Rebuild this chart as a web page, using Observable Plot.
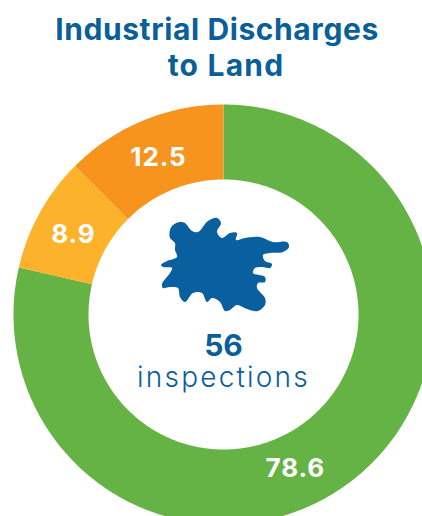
<!DOCTYPE html>
<html><head><meta charset="utf-8">
<script src="https://cdn.jsdelivr.net/npm/d3@7"></script>
<script src="https://cdn.jsdelivr.net/npm/@observablehq/plot@0.6"></script>
<style>
html,body{margin:0;background:#fff;overflow:hidden}
#t{height:92px;box-sizing:border-box;padding-top:11px;text-align:center;color:#0a5f9a;font:700 30px/36px Inter,sans-serif;letter-spacing:.6px;margin-left:12px}
#t span{position:relative;left:9px;letter-spacing:1.2px}
svg{display:block}
.lab{letter-spacing:.9px}
.insp{letter-spacing:2.2px}
</style></head><body>
<div id="t">Industrial Discharges<br><span>to Land</span></div>
<script>
const categories = ["good", "moderate", "poor"];
const shares = [78.6, 8.9, 12.5];
const labels = ["78.6", "8.9", "12.5"];
const colors = ["#66b345", "#fcb22b", "#f7941e"];
const labelBearing = [155, -62, -22.5];
const centerValue = "56";
const centerLabel = "inspections";
const splash = [[173,225],[180,222],[185,223],[192,231],[198,232],[208,221],[217,218],[221,223],[217,232],[222,238],[230,233],[237,233],[236,240],[245,238],[260,237],[273,242],[287,242],[289,247],[283,252],[270,253],[263,255],[265,261],[272,264],[270,268],[262,267],[255,268],[253,273],[265,277],[265,282],[258,283],[257,288],[265,298],[265,305],[258,311],[247,309],[237,305],[230,310],[225,311],[220,302],[212,298],[207,302],[202,293],[193,293],[185,302],[180,297],[178,288],[170,287],[163,288],[162,284],[170,273],[172,268],[163,267],[161,265],[167,261],[177,257],[175,250],[175,243],[170,238],[170,230]];

const R = 210, r = 135, cx = 223, cy = 222;
const latAt = (px) => 90 - (px / R) * 90;
const lonAt = (bearing) => 180 - bearing;

let start = 0;
const rows = categories.map((c, i) => {
  const a0 = start, a1 = start + shares[i] * 3.6; start = a1;
  return {c, a0, a1, fill: colors[i], label: labels[i], bearing: labelBearing[i]};
});
const sector = (d) => {
  const n = Math.ceil(d.a1 - d.a0), out = [], inn = [];
  for (let k = 0; k <= n; k++) {
    const b = d.a0 + (d.a1 - d.a0) * k / n;
    out.push([lonAt(b), latAt(R)]);
    inn.push([lonAt(b), latAt(r)]);
  }
  return {type: "Feature", properties: d, geometry: {type: "Polygon", coordinates: [[...out, ...inn.reverse(), out[0]]]}};
};

const chart = Plot.plot({
  width: 422, height: 424, margin: 0,
  projection: () => d3.geoAzimuthalEquidistant().rotate([0, -90]).translate([cx, cy]).scale(R / (Math.PI / 2)).precision(0.1),
  marks: [
    Plot.geo(rows.map(sector), {fill: (d) => d.properties.fill, stroke: null}),
    Plot.text(rows, {
      x: (d) => lonAt(d.bearing), y: latAt(170), text: "label", className: "lab",
      fill: "white", fontSize: 26, fontWeight: 700, fontFamily: "Inter, sans-serif"
    }),
    () => {
      const line = d3.line().curve(d3.curveCatmullRomClosed);
      const p = d3.create("svg:path").attr("d", line(splash)).attr("fill", "#0a5f9e").attr("transform", "translate(0,-92)");
      return p.node();
    },
    Plot.text([centerValue], {x: 0, y: 90, text: (d) => d, dy: 32, fill: "#0a5f9a", fontSize: 30, fontWeight: 700, fontFamily: "Inter, sans-serif"}),
    Plot.text([centerLabel], {x: 0, y: 90, text: (d) => d, dy: 64, className: "insp", fill: "#0a5f9a", fontSize: 28, fontWeight: 300, fontFamily: "Inter, sans-serif"})
  ]
});
document.body.append(chart);
</script>
</body></html>
